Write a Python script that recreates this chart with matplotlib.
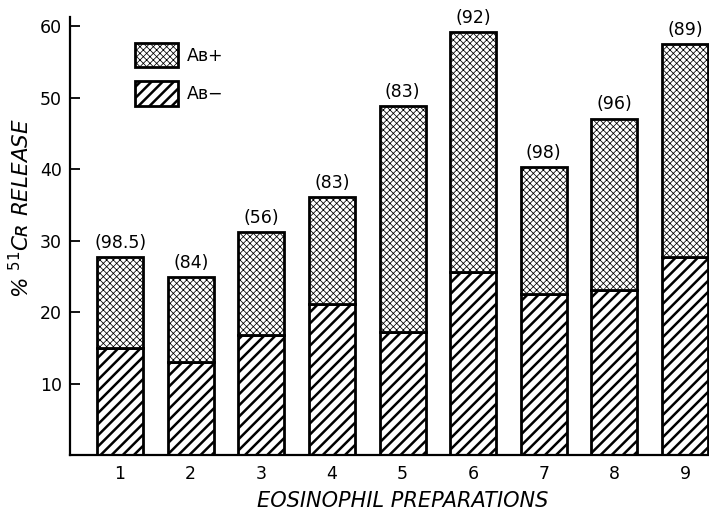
import matplotlib
matplotlib.use("Agg")
import matplotlib.pyplot as plt

# values
preps = [1, 2, 3, 4, 5, 6, 7, 8, 9]
ab_minus = [15.0, 13.0, 16.8, 21.2, 17.2, 25.6, 22.5, 23.1, 27.7]
ab_total = [27.7, 24.9, 31.2, 36.1, 48.8, 59.2, 40.3, 47.1, 57.5]
top_labels = ["(98.5)", "(84)", "(56)", "(83)", "(83)", "(92)", "(98)", "(96)", "(89)"]
ab_plus = [t - m for t, m in zip(ab_total, ab_minus)]

stripe_lw = 1.8
dot_lw = 0.55

plt.rcParams['font.family'] = ['DejaVu Sans']
plt.rcParams['hatch.color'] = 'black'

fig = plt.figure(figsize=(7.09, 5.11), dpi=100)
ax = fig.add_axes([0.0987, 0.1096, 0.9013, 0.857])

w = 0.65
plt.rcParams['hatch.linewidth'] = stripe_lw
b1 = ax.bar(preps, ab_minus, width=w, color='white', edgecolor='black',
            linewidth=2.0, hatch='///', label='Aʙ−')
plt.rcParams['hatch.linewidth'] = dot_lw
b2 = ax.bar(preps, ab_plus, bottom=ab_minus, width=w, color='white',
            edgecolor='black', linewidth=2.0, hatch='xxxxx', label='Aʙ+')

for x, t, lab in zip(preps, ab_total, top_labels):
    ax.annotate(lab, (x, t), xytext=(0, 4), textcoords='offset points',
                ha='center', va='bottom', fontsize=12.5)

ax.set_xlim(0.29, 9.34)
ax.set_ylim(0, 61.3)
ax.set_xticks(preps)
ax.set_xticklabels([str(p) for p in preps], fontsize=12.5)
ax.set_yticks([10, 20, 30, 40, 50, 60])
ax.tick_params(axis='y', direction='in', length=7, width=1.3, pad=6, labelsize=12.5)
ax.tick_params(axis='x', length=0, pad=7)

for s in ['top', 'right']:
    ax.spines[s].set_visible(False)
ax.spines['left'].set_linewidth(1.6)
ax.spines['bottom'].set_linewidth(1.6)

ax.set_xlabel('EOSINOPHIL PREPARATIONS', fontsize=15, style='italic')
ax.xaxis.set_label_coords(0.521, -0.082)
ax.set_ylabel('% $^{51}$Cʀ RELEASE', fontsize=15.5, style='italic')
ax.yaxis.set_label_coords(-0.058, 0.564)

leg = ax.legend(handles=[b2, b1], loc='upper left', bbox_to_anchor=(0.19, 0.916),
                bbox_transform=fig.transFigure, frameon=False, borderpad=0,
                borderaxespad=0, handlelength=2.5, handleheight=1.8,
                labelspacing=0.8, handletextpad=0.5, fontsize=12.5)
# legend patches are made after the rc change, so give them their own hatch widths
for h, lw in zip(leg.legend_handles, [dot_lw, stripe_lw]):
    if hasattr(h, 'set_hatch_linewidth'):
        h.set_hatch_linewidth(lw)
    else:
        h._hatch_linewidth = lw

fig.savefig('out.png', dpi=100)
